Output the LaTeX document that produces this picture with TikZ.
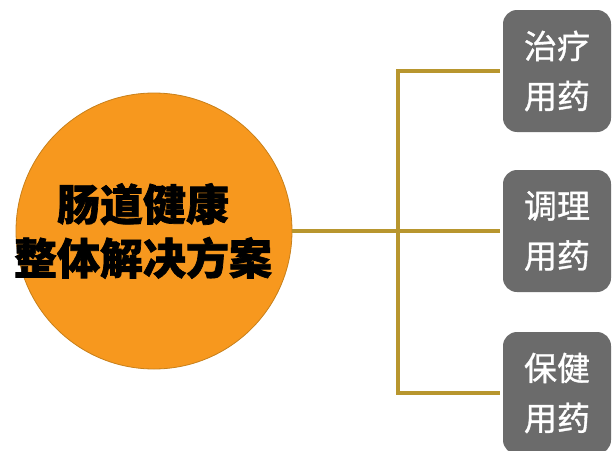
\documentclass[tikz,border=0pt]{standalone}
\usepackage{fontspec}
\newfontfamily\cjk{Noto Sans CJK SC}[BoldFeatures={FakeBold=1.6}]
\newfontfamily\cjkm{Noto Sans CJK SC}[FakeBold=1]
\definecolor{orfill}{HTML}{F7981E}
\definecolor{orline}{HTML}{C8801A}
\definecolor{goldline}{HTML}{B8962E}
\definecolor{boxgray}{HTML}{6B6B6B}
\begin{document}
\begin{tikzpicture}[x=1pt,y=-1pt,
  hub/.style={circle,fill=orfill,draw=orline,line width=0.8pt,minimum size=276pt,inner sep=0pt},
  hubtext/.style={align=center,font=\cjk\bfseries\fontsize{43}{54}\selectfont,text=black},
  leaf/.style={rounded corners=14pt,fill=boxgray,minimum width=108pt,minimum height=122pt,inner sep=0pt,
    align=center,text=white,font=\cjkm\fontsize{33}{50}\selectfont},
  conn/.style={goldline,line width=3.3pt}]
\useasboundingbox (0,0) rectangle (613,450);
\clip (0,0) rectangle (613,450);
\node[hub] (c) at (154,231) {};
\node[hubtext] (ct) at (143,231) {肠道健康\\整体解决方案};
\coordinate (j) at (398,231);
\node[leaf] (b1) at (557,71) {治疗\\用药};
\node[leaf] (b2) at (557,231) {调理\\用药};
\node[leaf] (b3) at (557,393) {保健\\用药};
\draw[conn] (c.east) -- (j);
\draw[conn] (j) |- ([xshift=-3pt]b1.west);
\draw[conn] (j) -- ([xshift=-3pt]b2.west);
\draw[conn] (j) |- ([xshift=-3pt]b3.west);
\end{tikzpicture}
\end{document}
